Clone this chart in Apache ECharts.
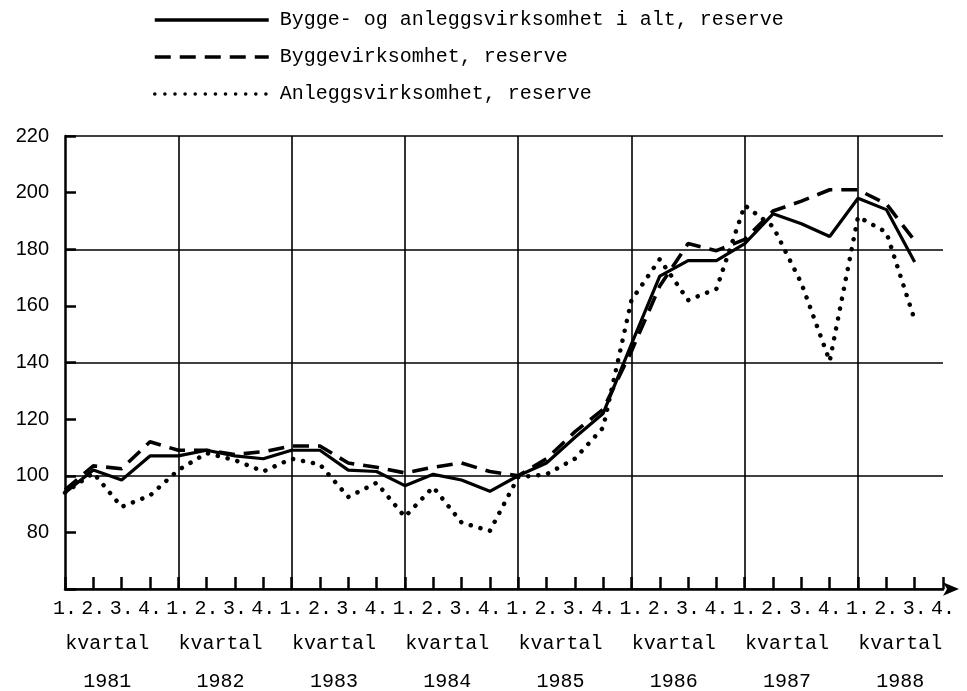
<!DOCTYPE html>
<html>
<head>
<meta charset="utf-8">
<script src="https://cdn.jsdelivr.net/npm/echarts@6/dist/echarts.min.js"></script>
<style>html,body{margin:0;padding:0;background:#fff}#c{width:967px;height:691px}</style>
</head>
<body>
<div id="c"></div>
<script>
var years = ['1981','1982','1983','1984','1985','1986','1987','1988'];
var quarters = ['1.','2.','3.','4.'];
var seriesNames = ['Bygge- og anleggsvirksomhet i alt, reserve','Byggevirksomhet, reserve','Anleggsvirksomhet, reserve'];
var totalValues = [94,102,98.5,107, 107,109,107,106, 109,109,102,101.5, 96.5,100.5,98.5,94.5, 100,104.5,113.5,122, 146.5,170.5,176,176, 182,192.5,189,184.5, 198,194,175.5,null];
var buildingValues = [95,103.5,102.5,112, 109,109,107.5,108.5, 110.5,110.5,104.5,103, 101,103,104.5,101.5, 100,106,115.5,123.5, 144,167,182,179.5, 183.5,193.5,197,201, 201,196,183,null];
var constructionValues = [94,101,89,93, 102,108,105.5,101.5, 106,104,92.5,97.5, 85.5,96,83.5,80.5, 99.5,100.5,106,117, 162,176.5,162,166, 195.5,188,168,140.5, 191.5,186,155,null];
var yTickValues = [80,100,120,140,160,180,200,220];

var categories = [];
years.forEach(function(y){ quarters.forEach(function(q){ categories.push(y + ' ' + q); }); });

var mono = 'Liberation Mono';
var chart = echarts.init(document.getElementById('c'));
chart.setOption({
  backgroundColor: '#fff',
  animation: false,
  legend: {
    orient: 'vertical', left: 148, top: 5,
    itemWidth: 114, itemHeight: 24, itemGap: 17,
    itemStyle: { opacity: 0 },
    lineStyle: { width: 3.5 },
    textStyle: { fontFamily: mono, fontSize: 20, color: '#000', padding: [0,0,0,6] },
    data: seriesNames
  },
  grid: { left: 65, right: 24, top: 136, bottom: 102, containLabel: false, outerBoundsMode: 'none' },
  xAxis: [{
    type: 'category', data: categories, boundaryGap: false, position: 'bottom',
    axisLine: { show: true, lineStyle: { color: '#000', width: 2.5 }, symbol: ['none','arrow'], symbolSize: [10, 16], symbolOffset: [0, 16] },
    axisTick: { show: true, inside: true, length: 12, interval: 0, lineStyle: { color: '#000', width: 2.5 } },
    axisLabel: { interval: 0, margin: 10, fontFamily: mono, fontSize: 20, color: '#000',
      formatter: function(v){ return v.split(' ')[1]; } },
    splitLine: { show: true, interval: function(i){ return i > 0 && i % 4 === 0; }, lineStyle: { color: '#000', width: 1.6 } }
  }, {
    type: 'category', data: categories, boundaryGap: false, position: 'bottom',
    axisLine: { show: false }, axisTick: { show: false }, splitLine: { show: false },
    axisLabel: { interval: 0, margin: 36, fontFamily: mono, fontSize: 20, color: '#000', lineHeight: 38,
      padding: [0,0,0,28],
      formatter: function(v, i){ var p = v.split(' '); return p[1] === '2.' ? 'kvartal\n' + p[0] : ''; } }
  }],
  yAxis: [{
    type: 'value', min: 60, max: 220, interval: 20, position: 'left',
    axisLine: { show: true, lineStyle: { color: '#000', width: 2.5 } },
    axisTick: { show: true, inside: true, length: 11, lineStyle: { color: '#000', width: 2.5 } },
    axisLabel: { margin: 16, fontFamily: 'Liberation Sans', fontSize: 20, color: '#000',
      formatter: function(v){ return yTickValues.indexOf(v) >= 0 ? String(v) : ''; } },
    splitLine: { show: false }
  }, {
    type: 'value', min: 60, max: 220, interval: 40, position: 'left',
    axisLine: { show: false }, axisTick: { show: false }, axisLabel: { show: false },
    splitLine: { show: true, lineStyle: { color: '#000', width: 1.6 } }
  }],
  series: [{
    name: seriesNames[0], type: 'line', data: totalValues, symbol: 'none', z: 5,
    lineStyle: { color: '#000', width: 3.2, type: 'solid' }, itemStyle: { color: '#000' }
  }, {
    name: seriesNames[1], type: 'line', data: buildingValues, symbol: 'none', z: 4,
    lineStyle: { color: '#000', width: 3.6, type: [16, 9] }, itemStyle: { color: '#000' }
  }, {
    name: seriesNames[2], type: 'line', data: constructionValues, symbol: 'none', z: 3,
    lineStyle: { color: '#000', width: 4.5, type: [0.1, 10], cap: 'round' }, itemStyle: { color: '#000' }
  }]
});
</script>
</body>
</html>
